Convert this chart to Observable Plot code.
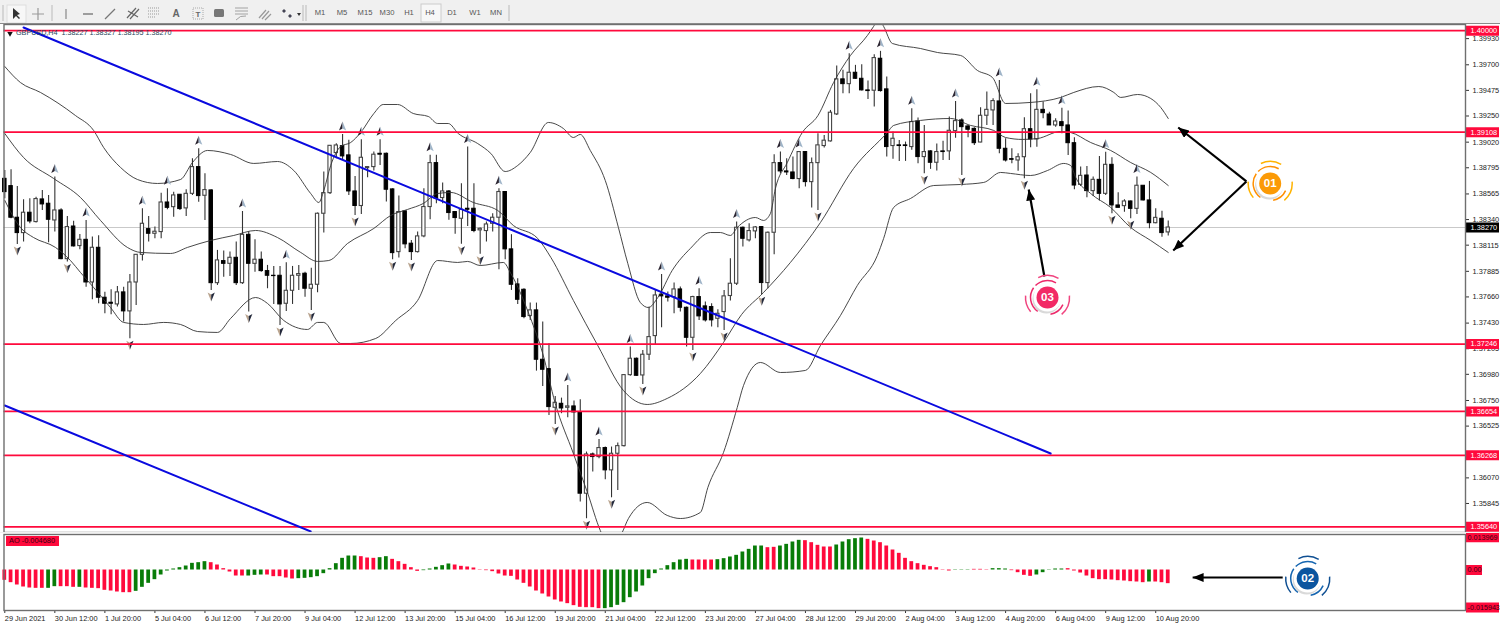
<!DOCTYPE html>
<html>
<head>
<meta charset="utf-8">
<script src="https://cdn.jsdelivr.net/npm/d3@7"></script>
<script src="https://cdn.jsdelivr.net/npm/@observablehq/plot@0.6"></script>
<style>
html,body{margin:0;padding:0;width:1500px;height:628px;overflow:hidden;background:#f0f0f0;font-family:"Liberation Sans",sans-serif}
#toolbar{position:absolute;left:0;top:0;width:1500px;height:23px;background:#f0f0f0;border-bottom:1px solid #8a8a8a}
#toolbar span{position:absolute;top:8px;font-size:7.6px;color:#555;transform:translateX(-50%)}
#toolbar svg{position:absolute;left:0;top:0}
#main,#ao{position:absolute;left:0}
#main{top:24px}#ao{top:533px}
</style>
</head>
<body>
<div id="toolbar"></div>
<div id="main"></div>
<div id="ao"></div>
<script>
// ---------- data: prices in 1/100000 ----------
const open = [
138698,138634,138356,138221,138400,138318,138517,138479,138332,138420,
137992,138279,138107,138162,137787,138092,137653,137609,137594,137700,
137533,137787,138030,138256,138215,138230,138490,138449,138558,138438,
138566,138801,138549,138596,137781,137975,137951,138004,137781,138206,
137951,137987,137887,137846,137846,137600,137714,137846,137864,137732,
137767,138391,138572,138924,138985,138904,138587,138459,138792,138801,
138918,138918,138605,138054,138412,138128,138054,138192,138450,138836,
138529,138587,138406,138347,138435,138435,138245,138239,138303,138356,
138582,138078,137770,137723,137492,137542,137108,137026,136686,136721,
136686,136698,136645,135931,136276,136253,136332,136136,136282,136349,
136973,137117,136970,137152,137316,137679,137665,137659,137726,137565,
137301,137659,137577,137571,137468,137527,137668,137776,138268,138157,
138236,138274,137782,138224,138836,138763,138754,138696,138933,138669,
138836,138986,139027,139264,139572,139530,139630,139577,139475,139472,
139753,139484,138986,138992,138992,138977,139202,138889,138939,138839,
138939,138939,139117,139211,139158,139137,139017,139252,139299,139378,
138962,138871,138859,138888,139134,139044,139304,139263,139167,139196,
139167,139011,138645,138727,138590,138689,138566,138821,138464,138458,
138499,138434,138637,138508,138308,138347,138227];
const high = [
138772,138777,138631,138514,138523,138537,138596,138552,138713,138435,
138367,138326,138209,138332,138186,138197,137702,137723,137752,137746,
137858,138033,138435,138367,138274,138572,138610,138581,138561,138602,
138874,138962,138742,138602,138069,138063,138054,138142,138411,138230,
138162,138054,137937,137928,137928,137960,137928,137937,137878,137913,
138397,138757,138991,139006,139088,139036,138719,139041,138807,138933,
139041,138924,138611,138546,138415,138157,138230,138611,138904,138904,
138661,138596,138406,138655,138977,138655,138265,138318,138391,138611,
138587,138207,137820,137732,137606,137606,137439,137249,136786,136771,
136882,136745,136757,136297,136288,136408,136341,136341,136376,136979,
137219,137123,137190,137571,137717,137858,137703,137782,137747,137571,
137665,137732,137615,137600,137547,137717,137996,138318,138274,138303,
138280,138280,138230,138910,138933,138874,138889,138939,138939,138880,
139094,139079,139299,139689,139651,139797,139695,139700,139557,139788,
139818,139592,139109,139035,139021,139314,139232,139167,138945,139003,
139027,139241,139378,139225,139167,139146,139322,139460,139401,139562,
139050,138962,138918,139234,139445,139480,139372,139284,139225,139319,
139293,139058,138801,138806,138713,138894,138932,138883,138575,138514,
138502,138713,138639,138675,138434,138414,138327];
const low = [
138523,138347,138121,138142,138303,138309,138420,138136,138230,137987,
137966,138098,138074,137746,137635,137600,137512,137503,137571,137439,
137292,137585,137975,138142,138171,138171,138426,138361,138420,138367,
138552,138493,138332,137717,137761,137834,137840,137761,137770,137527,
137878,137878,137732,137594,137410,137533,137594,137717,137658,137541,
137697,138221,138561,138874,138859,138552,138376,138385,138707,138766,
138816,138494,137987,138002,138084,137981,138046,138180,138338,138479,
138479,138333,138210,138122,138280,138224,138034,138142,138230,137899,
137987,137717,137594,137468,137454,137008,136874,136619,136540,136634,
136598,136267,135857,135711,136121,136238,136054,135895,135960,136341,
136962,136962,136891,137102,137243,137389,137615,137512,137527,137219,
137190,137454,137439,137395,137389,137366,137624,137761,138098,138142,
138171,137679,137732,138031,138743,138728,138690,138611,138625,138441,
138420,138968,139021,139255,139446,139446,139572,139469,139396,139328,
139460,138889,138869,138851,138851,138948,138830,138743,138781,138766,
138860,138860,139055,138727,139058,138991,139014,139167,139167,138918,
138845,138830,138765,138698,138970,138976,139225,139166,139152,139093,
138903,138601,138631,138531,138543,138502,138552,138391,138443,138405,
138347,138385,138502,138259,138303,138185,138195];
const close = [
138581,138356,138221,138400,138323,138520,138473,138338,138420,137992,
138274,138104,138162,137787,138092,137653,137600,137600,137700,137533,
137787,138030,138303,138215,138233,138490,138443,138552,138432,138566,
138801,138546,138599,137781,137981,137951,138004,137781,138206,137951,
137987,137887,137846,137843,137594,137714,137846,137861,137732,137767,
138391,138572,138988,138991,138895,138587,138459,138883,138801,138910,
138910,138602,138045,138406,138122,138054,138192,138450,138836,138523,
138587,138397,138353,138426,138426,138239,138259,138297,138356,138582,
138078,137767,137635,137483,137542,137108,137020,136692,136730,136680,
136698,136645,135931,136276,136253,136332,136136,136282,136349,136973,
137117,136967,137152,137307,137673,137665,137653,137726,137565,137301,
137659,137489,137454,137454,137512,137665,137776,138268,138171,138239,
138271,137782,138224,138836,138763,138754,138696,138933,138669,138836,
138992,139033,139279,139572,139530,139630,139577,139475,139469,139759,
139469,138977,139050,138986,138986,139197,138889,138933,138839,138933,
138933,139120,139205,139152,139129,139011,139252,139304,139381,138962,
138859,138865,138888,139134,139044,139304,139275,139167,139202,139161,
139011,138639,138724,138590,138689,138566,138821,138464,138443,138499,
138434,138637,138508,138308,138355,138221,138270];

// Bollinger bands, read at selected bars
const upperBar = [0,2.5,5.7,11.3,14.2,15.8,18.5,21.2,24.4,28.1,30,32.4,36.1,39.8,43.6,46.2,48.9,50.2,51,52.1,53.7,55.3,56.9,59,60.5,62.8,65.3,67.7,69.2,70.9,72.5,75.6,77.7,80,82,84,86.9,89.3,90.9,92,93.6,96,98.1,99.6,101.6,102.9,104.4,106.7,109.6,112.8,114.4,116,117.1,120,121.3,122.4,123.2,125.1,127.5,130,132.5,135.2,137.9,138.9,139.7,140.5,141.9,146.4,149.1,152.8,155.5,157.9,160,164,168.8,170.9,174.9,177.3,178.4,181.1,183.2,184.8,186];
const upperBand = [139685,139544,139457,139254,139123,138973,138798,138692,138657,138692,138841,138947,138912,138833,138850,138771,138569,138490,138595,138815,138982,139017,139105,139272,139351,139351,139272,139246,139184,139184,139096,139008,138921,138762,138815,138929,139193,139140,139061,139088,138947,138683,138270,137954,137611,137567,137655,137893,138086,138226,138226,138200,138270,138358,138332,138393,138613,138841,139105,139254,139544,139782,139957,140037,140107,140037,139887,139843,139808,139782,139650,139588,139360,139369,139413,139457,139509,139457,139413,139439,139404,139325,139228];
const middleBar = [0,3,7.8,12.1,15.3,19.6,21.7,26.5,29.2,32.9,36.6,40.1,43.6,47.3,50,51.8,54.8,59,61.7,64.4,66.9,69.2,71.3,74.9,78.8,81.3,85.2,87.3,90.9,94.8,98.9,102.7,105.9,111.2,114.9,117.8,121.3,125.6,130.4,135.7,141.1,142.1,146.4,151.2,154.4,158.1,160,162.7,165.1,168.8,170.4,173.6,176.8,180,183.2,186];
const middleBand = [139096,138885,138701,138534,138332,138095,138051,138042,138095,138156,138200,138244,138182,138051,137972,137980,138130,138262,138376,138429,138481,138569,138578,138490,138420,138288,138174,138007,137629,137233,136838,136715,136768,136987,137260,137506,137699,137963,138314,138789,139105,139167,139211,139228,139167,139123,139061,139044,139052,139114,139105,139017,138947,138841,138754,138639];
const lowerBar = [0,2.5,4.6,8.1,10.5,12.1,14.2,16.9,19,22.2,25.4,28.1,30.8,34,36.1,40.1,42,44.6,48.4,50,51,53.7,55.3,59.3,62.5,66,69.2,72.4,74,76,79.7,80.9,84,86,88,90.9,93.2,95.2,96.8,98.7,99.7,102.7,105.9,108,111.2,112.4,114.9,117.1,118.1,120.8,124,128,130.4,133.6,136.3,139.5,140.5,142.1,144.8,148.5,152.8,156.5,159.2,160.8,164,166.7,169.3,170.4,171.2,173.6,176.8,180,183.2,186];
const lowerBand = [138508,138270,138182,138095,137980,137875,137743,137567,137436,137418,137436,137418,137356,137348,137471,137655,137603,137453,137374,137436,137436,137251,137251,137295,137453,137629,137980,137963,137972,137936,137963,137866,137480,137163,136724,136284,135933,135608,135450,135590,135713,135854,135740,135713,135766,135986,136293,136689,136882,137084,136996,137014,137233,137497,137761,138024,138174,138446,138525,138639,138648,138666,138754,138745,138727,138771,138833,138815,138710,138569,138446,138270,138156,138051];

// Fractal markers (bar numbers)
const fractalUp = [8,13,22,26,31,38,45,54,57,60,68,74,79,90,95,100,105,111,117,124,127,135,140,145,152,159,165,169,176,181];
const fractalDown = [2,10,20,33,39,44,49,56,62,65,73,76,88,93,97,102,110,115,121,130,147,153,163,177,180];

// Horizontal levels and trend lines
const levels = [1.40000,1.39108,1.37246,1.36654,1.36268,1.35640];
const lastPrice = 1.38270;
const trendBars = [[3,167.2],[0,48.9]];
const trendPrices = [[1.40028,1.36284],[1.36706,1.35599]];

// Awesome Oscillator, in 1/100000
const aoValues = [
-440,-540,-639,-724,-767,-781,-781,-781,-710,-710,
-710,-738,-738,-767,-781,-795,-866,-895,-937,-966,
-966,-909,-738,-568,-412,-213,-43,43,99,170,
284,312,355,312,213,57,-85,-256,-256,-256,
-227,-213,-213,-284,-284,-341,-383,-369,-355,-327,
-284,-156,57,270,497,596,596,568,511,497,
525,568,454,355,241,99,-57,-28,43,114,
185,256,213,156,128,85,14,-28,-71,-170,
-256,-270,-426,-568,-724,-895,-1022,-1150,-1278,-1363,
-1434,-1519,-1590,-1605,-1605,-1647,-1647,-1605,-1505,-1392,
-1179,-937,-682,-369,-156,43,185,312,426,454,
426,426,426,426,440,483,554,625,767,880,
1022,1022,951,966,1022,1093,1193,1264,1250,1164,
1051,980,980,1065,1193,1292,1335,1363,1306,1235,
1164,1022,852,710,497,355,270,199,142,99,
14,-43,-14,-14,14,28,28,-14,57,57,
43,-28,-114,-227,-270,-213,-114,-14,43,43,
57,-43,-128,-256,-369,-412,-412,-426,-454,-469,
-497,-511,-540,-511,-511,-540,-582];
const aoDirection = [["d",7],["u",2],["d",3],["u",1],["d",8],["u",12],["d",6],["u",3],["d",5],["u",10],["d",3],["u",2],["d",5],["u",5],["d",24],["u",14],["d",4],["u",8],["d",2],["u",4],["d",5],["u",5],["d",14],["u",3],["d",3],["u",3],["d",4],["u",5],["d",13],["u",1],["d",3]];

// Axis labels
const priceTicks = [1.39930,1.39700,1.39475,1.39250,1.39020,1.38795,1.38565,1.38340,1.38115,1.37885,1.37660,1.37430,1.37205,1.36980,1.36750,1.36525,1.36070,1.35845];
const aoTicks = ["0.013969","0.00","-0.015943"];
const timeLabels = ["29 Jun 2021","30 Jun 12:00","1 Jul 20:00","5 Jul 04:00","6 Jul 12:00","7 Jul 20:00","9 Jul 04:00","12 Jul 12:00","13 Jul 20:00","15 Jul 04:00","16 Jul 12:00","19 Jul 20:00","21 Jul 04:00","22 Jul 12:00","23 Jul 20:00","27 Jul 04:00","28 Jul 12:00","29 Jul 20:00","2 Aug 04:00","3 Aug 12:00","4 Aug 20:00","6 Aug 04:00","9 Aug 12:00","10 Aug 20:00"];
const timeframes = ["M1","M5","M15","M30","H1","H4","D1","W1","MN"];
const mainTitle = "GBPUSD,H4  1.38227 1.38327 1.38195 1.38270";
const aoTitle = "AO -0.004680";

// Annotations: [bar, price]
const callouts = [{from:[198.5,1.38675],to:[187.6,1.39149]},{from:[198.5,1.38675],to:[186.8,1.38068]},{from:[166.2,1.37840],to:[163.7,1.38604]}];
const aoCallout = {from:[204.3,-0.0032],to:[189.9,-0.0032]};
const badges = [{label:"01",bar:202.3,price:1.38657,inner:"#ff8f00",outer:"#ffb300",disc:"#fb9a06"},{label:"03",bar:166.7,price:1.37655,inner:"#ec2a6b",outer:"#f0447f",disc:"#f22a66"}];
const aoBadge = [{label:"02",bar:208.3,value:-0.00362,inner:"#1565b0",outer:"#0f4f92",disc:"#0b559f"}];

// ---------- frame geometry ----------
const FL=3.5, FR=1465, W=1500, BAR0=4.3, STEP=6.255;
const xDomain=[(FL-BAR0)/STEP,(FR-BAR0)/STEP];
const xEnd=xDomain[1];
const RED="#ff0a3c", FONT='"Liberation Sans",sans-serif';

const bars=open.map((o,i)=>({i,open:o/1e5,high:high[i]/1e5,low:low[i]/1e5,close:close[i]/1e5}));
const series=(b,v)=>b.map((x,k)=>({x,y:v[k]/1e5}));

// ---------- symbols ----------
const upL={draw(c){c.moveTo(0,-5);c.lineTo(-3.6,4);c.lineTo(0,2);c.closePath();}};
const upR={draw(c){c.moveTo(0,-5);c.lineTo(3.6,4);c.lineTo(0,2);c.closePath();}};
const dnL={draw(c){c.moveTo(0,5);c.lineTo(-3.6,-4);c.lineTo(0,-2);c.closePath();}};
const dnR={draw(c){c.moveTo(0,5);c.lineTo(3.6,-4);c.lineTo(0,-2);c.closePath();}};
const box=w=>({draw(c){c.rect(0.5,-5,w,10);}});
const arcs=list=>({draw(c){for(const [r,a,b] of list){const A=a*Math.PI/180,B=b*Math.PI/180;c.moveTo(r*Math.cos(A),r*Math.sin(A));c.arc(0,0,r,A,B);}}});
const innerArcs=arcs([[17,125,215],[17,225,300],[17,25,80]]);
const outerArcs=arcs([[22,245,300],[22,140,185],[22,-5,50]]);

function arrowHead(color,context){
  const ns="http://www.w3.org/2000/svg",d=context.document;
  const m=d.createElementNS(ns,"marker");
  m.setAttribute("viewBox","-11 -4.5 11 9");m.setAttribute("markerWidth",11);m.setAttribute("markerHeight",9);
  m.setAttribute("markerUnits","userSpaceOnUse");m.setAttribute("orient","auto");m.setAttribute("refX",0);m.setAttribute("refY",0);
  const p=d.createElementNS(ns,"path");p.setAttribute("d","M-11,-4.5L0,0L-11,4.5Z");p.setAttribute("fill",color);p.setAttribute("stroke","none");
  m.appendChild(p);return m;
}
function badgeMarks(data,yKey){
  const o={x:"bar",y:yKey};
  return [
    Plot.dot(data,{...o,symbol:innerArcs,r:5,fill:"none",stroke:"inner",strokeWidth:1.5}),
    Plot.dot(data,{...o,symbol:outerArcs,r:5,fill:"none",stroke:"outer",strokeWidth:1.5}),
    Plot.dot(data,{...o,r:14,fill:"#d9d9d9",stroke:"none",dx:-1,dy:2}),
    Plot.dot(data,{...o,r:14,fill:"white",stroke:"none"}),
    Plot.dot(data,{...o,r:11,fill:"disc",stroke:"none"}),
    Plot.text(data,{...o,text:"label",fill:"white",fontSize:11.5,fontWeight:"bold",fontFamily:FONT})
  ];
}

// ---------- main panel ----------
const isDown=d=>d.close<d.open;
const main=Plot.plot({
  width:W,height:508,marginTop:0,marginBottom:0,marginLeft:FL,marginRight:W-FR,
  style:{background:"white",fontFamily:FONT,display:"block"},
  x:{domain:xDomain,axis:null},
  y:{domain:[1.35590,1.40054],axis:null},
  marks:[
    Plot.ruleY([lastPrice],{stroke:"#c9c9c9",strokeWidth:1.2}),
    Plot.ruleX(bars,{x:"i",y1:"low",y2:"high",stroke:"#333",strokeWidth:1.1}),
    Plot.rect(bars.filter(d=>!isDown(d)),{x1:d=>d.i-0.26,x2:d=>d.i+0.26,y1:"open",y2:"close",fill:"white",stroke:"#444",strokeWidth:1.1}),
    Plot.rect(bars.filter(isDown),{x1:d=>d.i-0.28,x2:d=>d.i+0.28,y1:"open",y2:"close",fill:"#000",stroke:"#000",strokeWidth:1}),
    Plot.line(series(upperBar,upperBand),{x:"x",y:"y",stroke:"#333",strokeWidth:0.9,curve:"monotone-x",clip:true}),
    Plot.line(series(middleBar,middleBand),{x:"x",y:"y",stroke:"#333",strokeWidth:0.9,curve:"monotone-x",clip:true}),
    Plot.line(series(lowerBar,lowerBand),{x:"x",y:"y",stroke:"#333",strokeWidth:0.9,curve:"monotone-x",clip:true}),
    Plot.dot(fractalUp,{x:d=>d,y:d=>bars[d].high,dy:-8,symbol:upL,r:4,fill:"#2a2430",stroke:"none"}),
    Plot.dot(fractalUp,{x:d=>d,y:d=>bars[d].high,dy:-8,symbol:upR,r:4,fill:"#9fb4c8",stroke:"none"}),
    Plot.dot(fractalDown,{x:d=>d,y:d=>bars[d].low,dy:6,symbol:dnL,r:4,fill:"#b9a48f",stroke:"none"}),
    Plot.dot(fractalDown,{x:d=>d,y:d=>bars[d].low,dy:6,symbol:dnR,r:4,fill:"#23283a",stroke:"none"}),
    Plot.ruleY(levels,{stroke:RED,strokeWidth:1.8}),
    ...trendBars.map((b,k)=>Plot.line([0,1].map(j=>({x:b[j],y:trendPrices[k][j]})),{x:"x",y:"y",stroke:"#0a0adf",strokeWidth:2,clip:true})),
    Plot.text([mainTitle],{frameAnchor:"top-left",dx:12,dy:5,fontSize:7.2,fill:"#24465c",lineAnchor:"top",textAnchor:"start"}),
    Plot.dot([0],{frameAnchor:"top-left",dx:6,dy:9,symbol:"triangle2",rotate:180,r:2.6,fill:"#111",stroke:"none"}),
    Plot.link(callouts,{x1:d=>d.from[0],y1:d=>d.from[1],x2:d=>d.to[0],y2:d=>d.to[1],stroke:"#000",strokeWidth:2.2,markerEnd:arrowHead}),
    ...badgeMarks(badges,"price"),
    Plot.axisY(priceTicks,{anchor:"right",tickSize:3,tickPadding:4,fontSize:7.4,fill:"#222",stroke:"#333",tickFormat:d3.format(".5f"),label:null}),
    Plot.dot(levels,{x:()=>xEnd,y:d=>d,symbol:box(33),r:5,fill:RED,stroke:"none"}),
    Plot.text(levels,{x:()=>xEnd,y:d=>d,text:d=>d3.format(".5f")(d),dx:5,textAnchor:"start",fontSize:7.4,fill:"white"}),
    Plot.dot([lastPrice],{x:()=>xEnd,y:d=>d,symbol:box(33),r:5,fill:"#000",stroke:"none"}),
    Plot.text([lastPrice],{x:()=>xEnd,y:d=>d,text:d=>d3.format(".5f")(d),dx:5,textAnchor:"start",fontSize:7.4,fill:"white"}),
    Plot.frame({stroke:"#6f6f6f",strokeWidth:1.4})
  ]
});
document.getElementById("main").appendChild(main);

// ---------- AO panel ----------
const dirs=aoDirection.flatMap(([d,n])=>Array(n).fill(d));
const aoBars=aoValues.map((v,i)=>({i,v:v/1e5,dir:dirs[i]}));
const aoBar=dir=>Plot.rect(aoBars.filter(d=>d.dir===dir),{x1:d=>d.i-0.3,x2:d=>d.i+0.3,y1:0,y2:"v",fill:dir==="u"?"#087c08":"#ff0a3c"});
const aoTickValue=s=>+s;
const aoPlot=Plot.plot({
  width:W,height:95,marginTop:1,marginBottom:18,marginLeft:FL,marginRight:W-FR,
  style:{background:"white",fontFamily:FONT,display:"block"},
  x:{domain:xDomain,axis:null},
  y:{domain:[-0.017256,0.015126],axis:null},
  marks:[
    aoBar("d"),aoBar("u"),
    Plot.dot([0],{frameAnchor:"top-left",dx:1.5,dy:6.5,symbol:box(53),r:5,fill:RED,stroke:"none"}),
    Plot.text([aoTitle],{frameAnchor:"top-left",dx:5,dy:6.5,fontSize:7.4,fill:"#3a0010",textAnchor:"start",lineAnchor:"middle"}),
    Plot.link([aoCallout],{x1:d=>d.from[0],y1:d=>d.from[1],x2:d=>d.to[0],y2:d=>d.to[1],stroke:"#000",strokeWidth:2.2,markerEnd:arrowHead}),
    ...badgeMarks(aoBadge,"value"),
    Plot.dot(aoTicks,{x:()=>xEnd,y:aoTickValue,symbol:box(33),r:5,fill:RED,stroke:"none",filter:d=>d.length>4}),
    Plot.dot(aoTicks,{x:()=>xEnd,y:aoTickValue,symbol:box(16),r:5,fill:RED,stroke:"none",filter:d=>d.length<=4}),
    Plot.text(aoTicks,{x:()=>xEnd,y:aoTickValue,text:d=>d,dx:2,textAnchor:"start",fontSize:7.2,fill:"#3a0010"}),
    Plot.axisX(timeLabels.map((_,k)=>k*8),{anchor:"bottom",tickSize:3,tickPadding:2,textAnchor:"start",fontSize:7.4,fill:"#222",stroke:"#333",tickFormat:d=>timeLabels[d/8],label:null}),
    Plot.frame({stroke:"#6f6f6f",strokeWidth:1.4})
  ]
});
document.getElementById("ao").appendChild(aoPlot);

// ---------- toolbar ----------
const tb=document.getElementById("toolbar");
const tfX=[320,342,365,387,409,430,452,475,496];
timeframes.forEach((t,k)=>{const s=document.createElement("span");s.textContent=t;s.style.left=tfX[k]+"px";tb.appendChild(s);});
const letter=(x,t,fs,w)=>`<text x="${x}" y="17" font-size="${fs}" font-weight="${w||'normal'}" fill="#666" text-anchor="middle" font-family="Liberation Sans">${t}</text>`;
tb.insertAdjacentHTML("afterbegin",`<svg width="1500" height="23">
<rect x="7" y="5" width="19" height="18" fill="#f7f7f7" stroke="#ddd"/>
<rect x="421" y="4" width="20" height="18" fill="#f7f7f7" stroke="#ccc"/>
<path d="M3 5V21M52 5V21M303 5V21M306 5V21M509 5V21" stroke="#c4c4c4" stroke-width="1.2"/>
<path d="M13 8L13 19L16 16L19 19L20 18L17 15L20 14Z" fill="#333"/>
<path d="M38 8V20M32 14H44" stroke="#999" stroke-width="1.2"/>
<path d="M66 9V19" stroke="#888" stroke-width="1.2"/>
<path d="M83 14H93" stroke="#666" stroke-width="1.2"/>
<path d="M105 19L115 9" stroke="#777" stroke-width="1.2"/>
<path d="M127 18L136 8M130 19L139 9M128 11L138 17" stroke="#666" stroke-width="1.2"/>
<path d="M148 8H160M148 11H160M148 14H160M148 17H156" stroke="#999" stroke-dasharray="1 1"/>
${letter(176,"A",10,"bold")}
<rect x="193" y="8" width="10" height="11" fill="none" stroke="#aaa" stroke-dasharray="1 1"/>${letter(198,"T",8,"bold")}
<rect x="214" y="9" width="10" height="8" rx="1.5" fill="#777"/>
<path d="M235 8H248M235 11H248M235 14H248M236 20Q240 15 246 16" stroke="#999" stroke-width="0.9" fill="none"/>
<path d="M259 18L266 10M262 19L269 11M265 20L271 14" stroke="#999" stroke-width="1.2"/>
<path d="M284 9l2 2-2 2-2-2zM290 14l2 2-2 2-2-2z" fill="#445"/><path d="M297 13h4l-2 3z" fill="#333"/>
</svg>`);
</script>
</body>
</html>
